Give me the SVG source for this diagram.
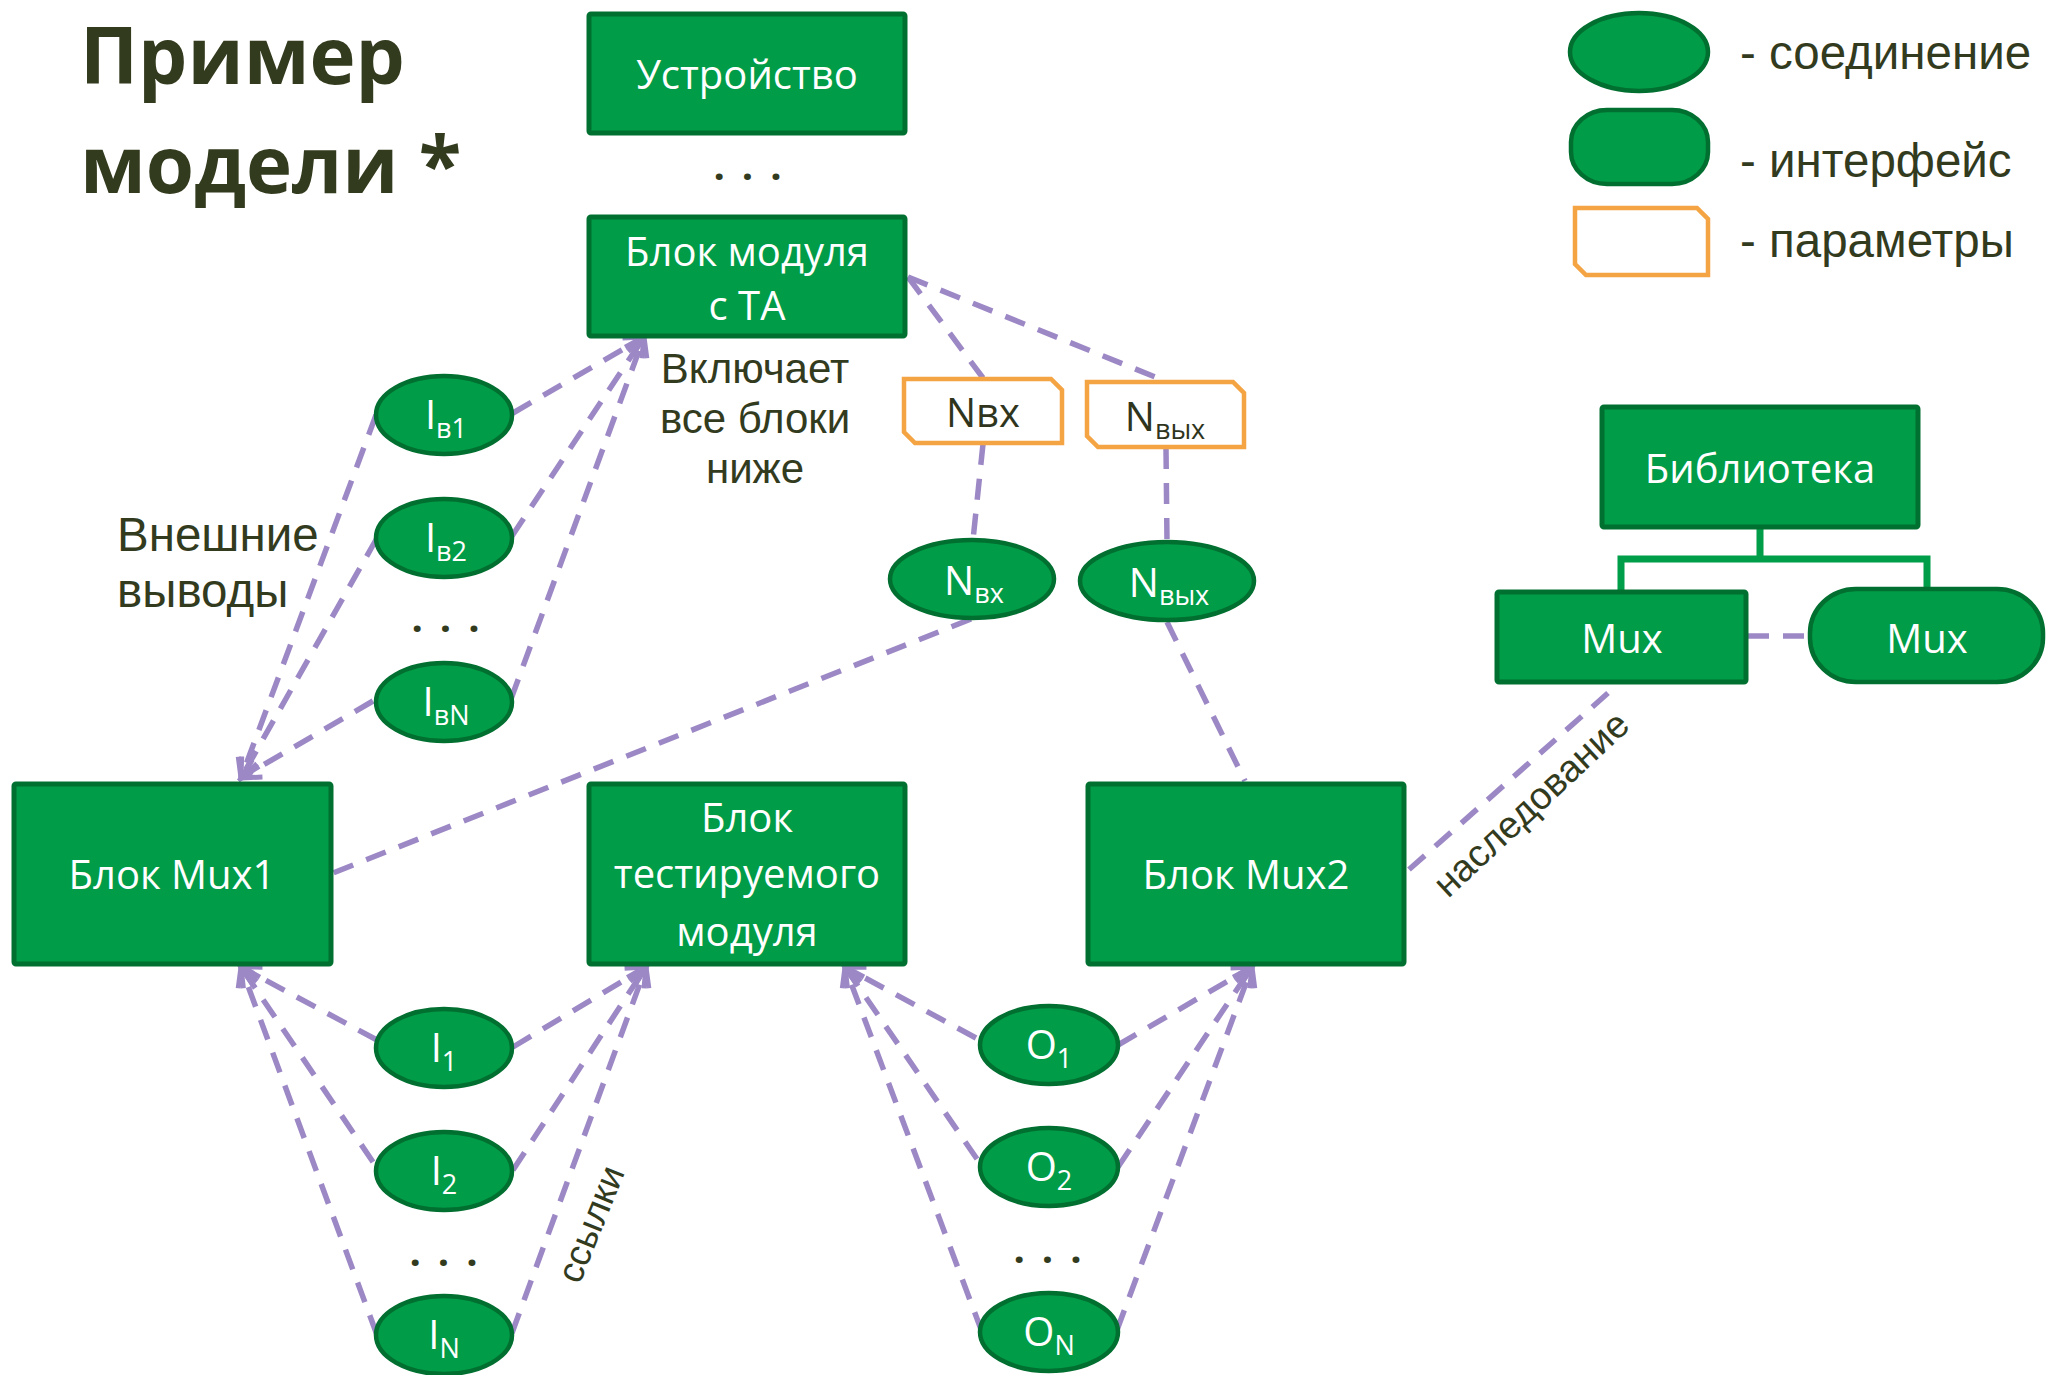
<svg xmlns="http://www.w3.org/2000/svg" width="2046" height="1375" viewBox="0 0 2046 1375">
<style>
.box{fill:#009C47;stroke:#007030;stroke-width:5}
.ell{fill:#009C47;stroke:#006F30;stroke-width:4.5}
.par{fill:#fff;stroke:#F4A443;stroke-width:4.5}
.lbl{font-family:'Open Sans','Noto Sans',sans-serif;font-size:40px;fill:#fff;text-anchor:middle}
.sub{font-size:27px}
.dark{font-family:'Open Sans','Noto Sans',sans-serif;font-size:40px;fill:#2F351D;text-anchor:middle}
.txt{font-family:'Liberation Sans',Arial,sans-serif;fill:#333B1E}
.title{font-family:'Open Sans','Noto Sans',sans-serif;font-weight:bold;font-size:78px;fill:#333B1E}
.dots{font-family:'Open Sans','Noto Sans',sans-serif;font-weight:bold;font-size:40px;fill:#333B1E;text-anchor:middle;letter-spacing:17px}
.con{fill:none;stroke:#9D88C6;stroke-width:5.5;stroke-dasharray:21 14}
.tree{fill:none;stroke:#009E49;stroke-width:7}
</style>
<defs>
<marker id="arr" viewBox="0 0 30 30" refX="26" refY="15" markerWidth="30" markerHeight="30" orient="auto" markerUnits="userSpaceOnUse">
<path d="M7,5 L26,15 L7,25" fill="none" stroke="#9D88C6" stroke-width="5"/>
</marker>
</defs>
<rect width="2046" height="1375" fill="#fff"/>

<g id="title">
<text class="title" x="80" y="84">Пример</text>
<text class="title" x="80" y="193">модели *</text>
</g>

<g id="legend">
<ellipse class="ell" cx="1639" cy="52" rx="69" ry="39"/>
<rect class="ell" x="1571" y="110" width="137" height="74" rx="36" ry="32"/>
<path class="par" d="M1575,208 H1697 L1708,219 V275 H1586 L1575,264 Z"/>
<text class="txt" x="1740" y="69" font-size="47.5">- соединение</text>
<text class="txt" x="1740" y="177" font-size="47.5">- интерфейс</text>
<text class="txt" x="1740" y="257" font-size="47.5">- параметры</text>
</g>

<g id="connectors">
<path class="con" d="M513,413 L644,337" marker-end="url(#arr)"/>
<path class="con" d="M512,536 L644,337" marker-end="url(#arr)"/>
<path class="con" d="M511,699 L644,337" marker-end="url(#arr)"/>
<path class="con" d="M376,415 L241,778" marker-end="url(#arr)"/>
<path class="con" d="M377,538 L241,778" marker-end="url(#arr)"/>
<path class="con" d="M373,701 L241,778" marker-end="url(#arr)"/>
<path class="con" d="M377,1040 L241,967" marker-end="url(#arr)"/>
<path class="con" d="M373,1162 L241,967" marker-end="url(#arr)"/>
<path class="con" d="M377,1335 L241,967" marker-end="url(#arr)"/>
<path class="con" d="M513,1047 L646,967" marker-end="url(#arr)"/>
<path class="con" d="M513,1170 L646,967" marker-end="url(#arr)"/>
<path class="con" d="M512,1333 L646,967" marker-end="url(#arr)"/>
<path class="con" d="M976,1038 L845,967" marker-end="url(#arr)"/>
<path class="con" d="M977,1159 L845,967" marker-end="url(#arr)"/>
<path class="con" d="M982,1332 L845,967" marker-end="url(#arr)"/>
<path class="con" d="M1118,1045 L1252,967" marker-end="url(#arr)"/>
<path class="con" d="M1118,1167 L1252,967" marker-end="url(#arr)"/>
<path class="con" d="M1117,1330 L1252,967" marker-end="url(#arr)"/>
<path class="con" d="M908,277 L983,378"/>
<path class="con" d="M908,277 L1165,381"/>
<path class="con" d="M983,444 L973,540"/>
<path class="con" d="M1166,448 L1167,542"/>
<path class="con" d="M971,619 L333,873"/>
<path class="con" d="M1167,622 L1245,781"/>
<path class="con" d="M1748,636 L1809,636"/>
<path class="con" d="M1608,693 L1404,874"/>
<path class="tree" d="M1760,529 V559 M1621,590 V559 H1927 V588"/>
</g>

<g id="labels">
<text class="txt" x="755" y="383" font-size="42" text-anchor="middle">Включает</text>
<text class="txt" x="755" y="433" font-size="42" text-anchor="middle">все блоки</text>
<text class="txt" x="755" y="483" font-size="42" text-anchor="middle">ниже</text>
<text class="txt" x="117" y="551" font-size="47.5">Внешние</text>
<text class="txt" x="117" y="607" font-size="47.5">выводы</text>
<text class="txt" font-size="37" text-anchor="middle" transform="translate(593,1225) rotate(-68)" y="10">ссылки</text>
<text class="txt" font-size="38" text-anchor="middle" transform="translate(1533,806) rotate(-43)" y="10">наследование</text>
<text class="dots" x="756" y="180">...</text>
<text class="dots" x="454" y="632">...</text>
<text class="dots" x="452" y="1266">...</text>
<text class="dots" x="1056" y="1263">...</text>
</g>

<g id="node-device">
<rect class="box" x="589" y="14" width="316" height="119" rx="2"/>
<text class="lbl" x="747" y="89">Устройство</text>
</g>
<g id="node-module-ta">
<rect class="box" x="589" y="217" width="316" height="119" rx="2"/>
<text class="lbl" x="747" y="266">Блок модуля</text>
<text class="lbl" x="747" y="320">с ТА</text>
</g>
<g id="node-library">
<rect class="box" x="1602" y="407" width="316" height="120" rx="2"/>
<text class="lbl" x="1760" y="483">Библиотека</text>
</g>
<g id="node-mux-block">
<rect class="box" x="1497" y="592" width="249" height="90" rx="2"/>
<text class="lbl" x="1622" y="653">Mux</text>
</g>
<g id="node-mux-iface">
<rect class="ell" x="1810" y="589" width="233" height="93" rx="46" ry="44"/>
<text class="lbl" x="1927" y="653">Mux</text>
</g>
<g id="node-mux1">
<rect class="box" x="14" y="784" width="317" height="180" rx="2"/>
<text class="lbl" x="172" y="889">Блок Mux1</text>
</g>
<g id="node-test-module">
<rect class="box" x="589" y="784" width="316" height="180" rx="2"/>
<text class="lbl" x="747" y="832">Блок</text>
<text class="lbl" x="747" y="888">тестируемого</text>
<text class="lbl" x="747" y="946">модуля</text>
</g>
<g id="node-mux2">
<rect class="box" x="1088" y="784" width="316" height="180" rx="2"/>
<text class="lbl" x="1246" y="889">Блок Mux2</text>
</g>
<g id="node-nvx-param">
<path class="par" d="M904,379 H1051 L1062,390 V443 H915 L904,432 Z"/>
<text class="dark" x="983" y="427">Nвх</text>
</g>
<g id="node-nvyx-param">
<path class="par" d="M1087,382 H1233 L1244,393 V447 H1098 L1087,436 Z"/>
<text class="dark" x="1165" y="431">N<tspan class="sub" dy="8">вых</tspan></text>
</g>
<g id="node-nvx">
<ellipse class="ell" cx="972" cy="579" rx="82" ry="39"/>
<text class="lbl" x="974" y="595">N<tspan class="sub" dy="8">вх</tspan></text>
</g>
<g id="node-nvyx">
<ellipse class="ell" cx="1167" cy="581" rx="87" ry="39"/>
<text class="lbl" x="1169" y="597">N<tspan class="sub" dy="8">вых</tspan></text>
</g>
<g id="node-ib1">
<ellipse class="ell" cx="444" cy="415" rx="68" ry="39"/>
<text class="lbl" x="446" y="429">I<tspan class="sub" dy="9">в1</tspan></text>
</g>
<g id="node-ib2">
<ellipse class="ell" cx="444" cy="538" rx="68" ry="39"/>
<text class="lbl" x="446" y="552">I<tspan class="sub" dy="9">в2</tspan></text>
</g>
<g id="node-ibn">
<ellipse class="ell" cx="444" cy="702" rx="68" ry="39"/>
<text class="lbl" x="446" y="716">I<tspan class="sub" dy="9">вN</tspan></text>
</g>
<g id="node-i1">
<ellipse class="ell" cx="444" cy="1048" rx="68" ry="39"/>
<text class="lbl" x="444" y="1062">I<tspan class="sub" dy="9">1</tspan></text>
</g>
<g id="node-i2">
<ellipse class="ell" cx="444" cy="1171" rx="68" ry="39"/>
<text class="lbl" x="444" y="1185">I<tspan class="sub" dy="9">2</tspan></text>
</g>
<g id="node-in">
<ellipse class="ell" cx="444" cy="1335" rx="68" ry="39"/>
<text class="lbl" x="444" y="1349">I<tspan class="sub" dy="9">N</tspan></text>
</g>
<g id="node-o1">
<ellipse class="ell" cx="1049" cy="1045" rx="69" ry="39"/>
<text class="lbl" x="1049" y="1059">O<tspan class="sub" dy="9">1</tspan></text>
</g>
<g id="node-o2">
<ellipse class="ell" cx="1049" cy="1167" rx="69" ry="39"/>
<text class="lbl" x="1049" y="1181">O<tspan class="sub" dy="9">2</tspan></text>
</g>
<g id="node-on">
<ellipse class="ell" cx="1049" cy="1332" rx="69" ry="39"/>
<text class="lbl" x="1049" y="1346">O<tspan class="sub" dy="9">N</tspan></text>
</g>
</svg>
